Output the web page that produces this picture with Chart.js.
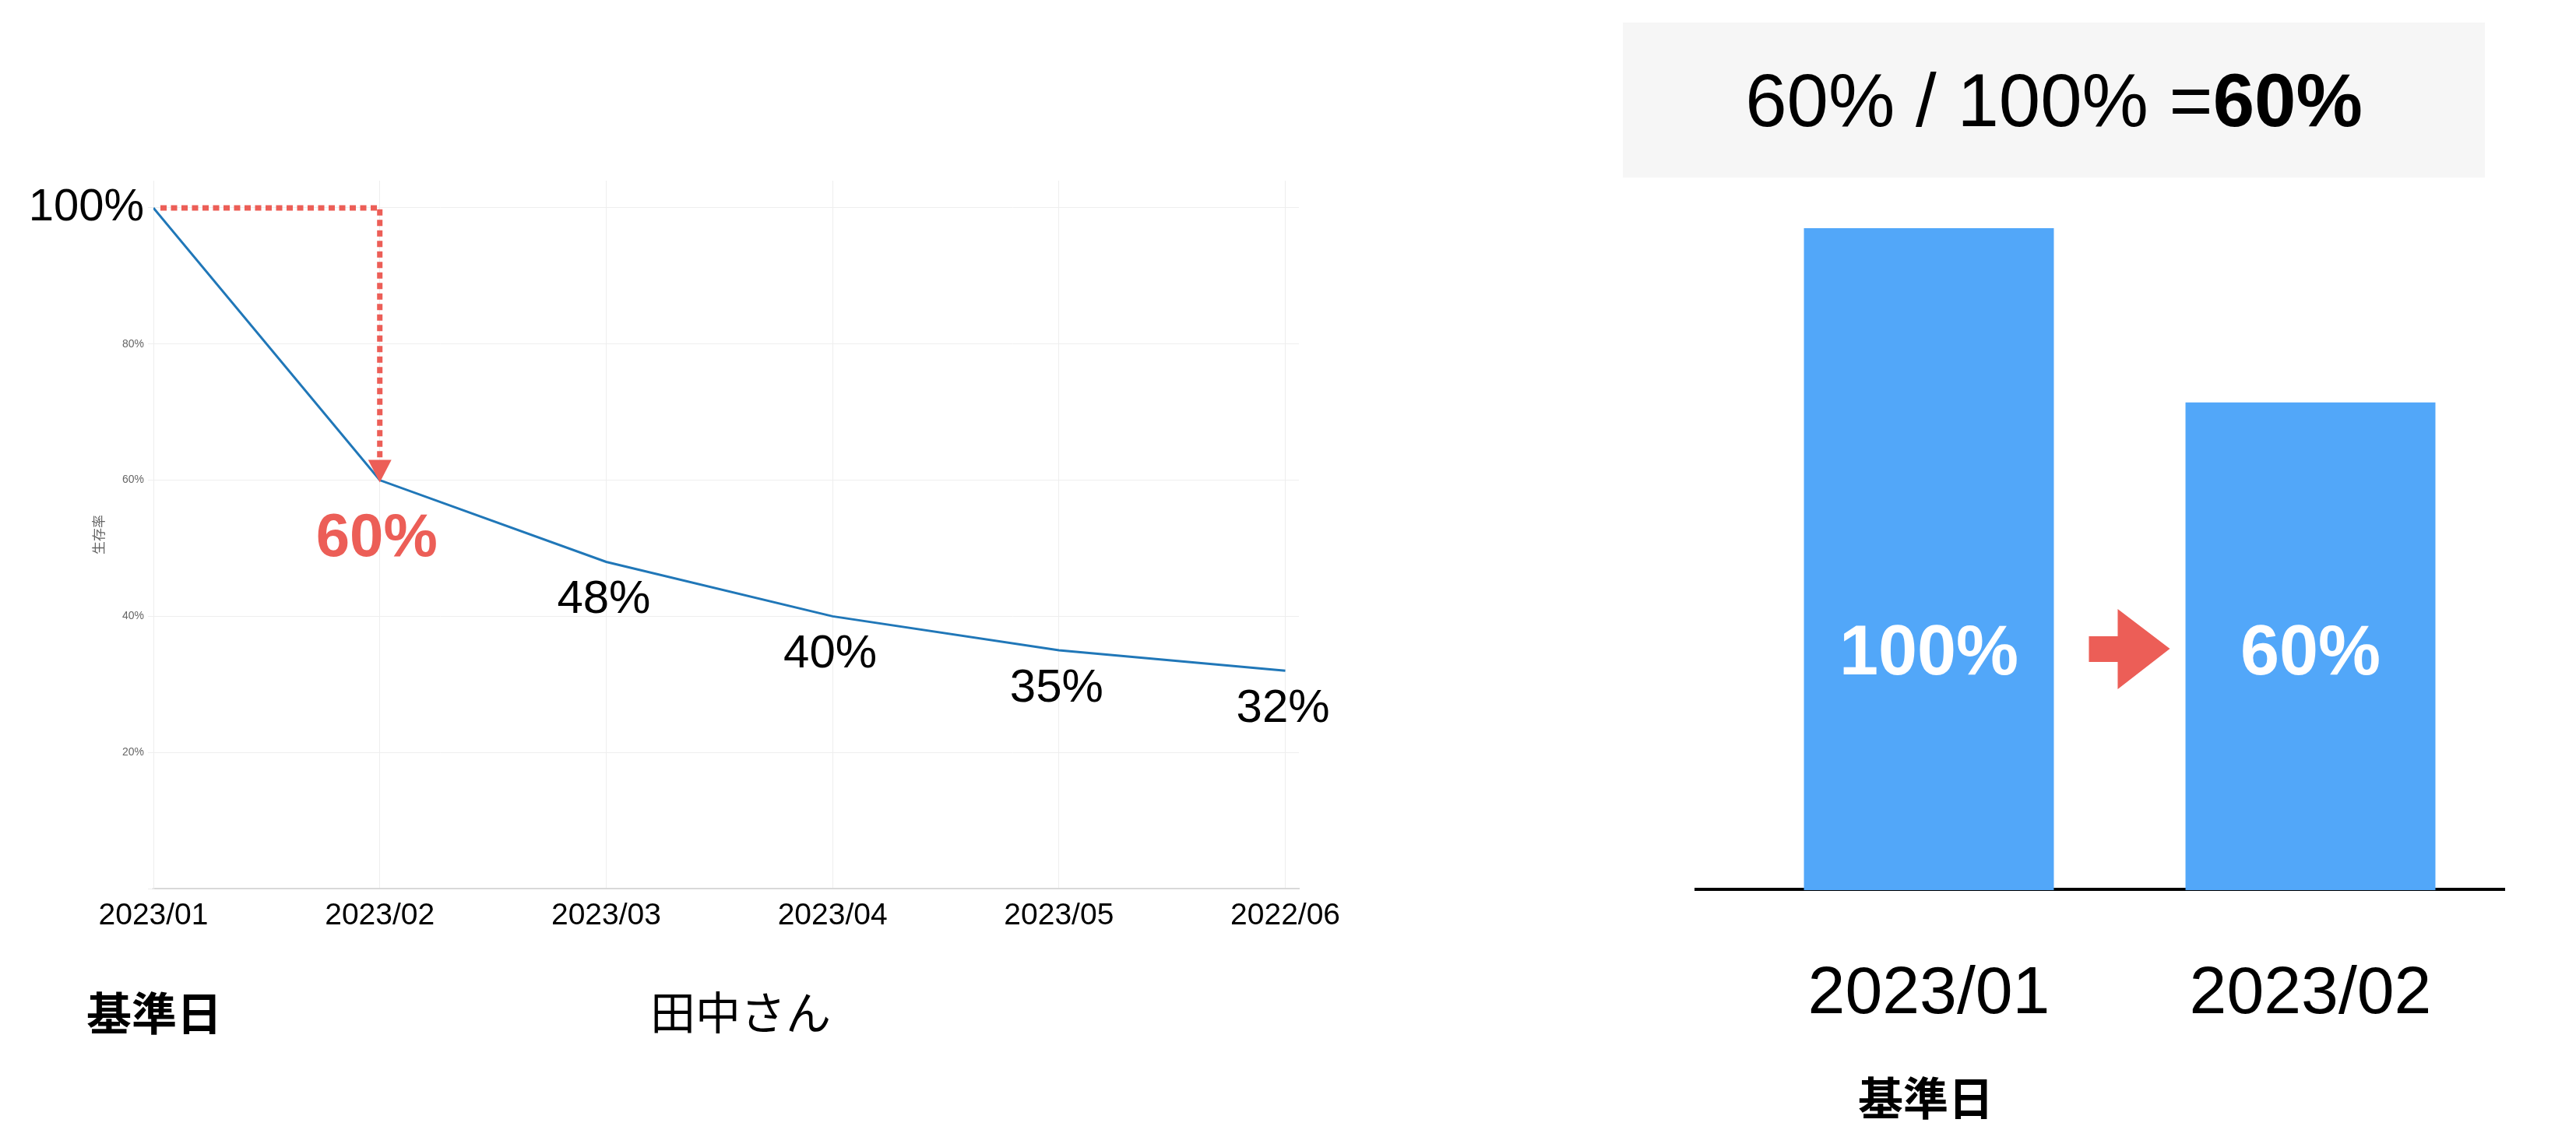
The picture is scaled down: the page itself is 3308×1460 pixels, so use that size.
<!DOCTYPE html>
<html lang="ja">
<head>
<meta charset="utf-8">
<title>生存率</title>
<script src="https://cdn.jsdelivr.net/npm/chart.js@4.4.1/dist/chart.umd.min.js"></script>
<style>
  html, body { margin: 0; padding: 0; background: #fff; }
  body { width: 3308px; height: 1460px; position: relative; overflow: hidden; font-family: "Liberation Sans", Arial, sans-serif; }
  .abs { position: absolute; white-space: nowrap; line-height: 1; }
  #lineWrap { position: absolute; left: 0; top: 0; width: 1800px; height: 1240px; }
  #barWrap { position: absolute; left: 2100px; top: 250px; width: 1208px; height: 1210px; }
  #formula { left: 2084px; top: 29px; width: 1107px; height: 199px; background: #f6f6f6;
             display: flex; align-items: center; justify-content: center; font-size: 96px; color: #000; }
  .jp { font-family: "Noto Sans CJK JP", sans-serif; font-size: 58px; color: #000; }
</style>
</head>
<body>
<div id="lineWrap"><canvas id="survivalChart"></canvas></div>
<div id="barWrap"><canvas id="compareChart"></canvas></div>
<div id="formula" class="abs"></div>
<div class="abs jp" style="left:111px; top:1298px; transform:translateY(-50%); font-weight:700;">基準日</div>
<div class="abs jp" style="left:835px; top:1297px; transform:translateY(-50%);">田中さん</div>
<div class="abs jp" style="left:2473px; top:1407px; transform:translate(-50%,-50%); font-weight:700;">基準日</div>

<script>
// ====== DATA ======
const months = ['2023/01', '2023/02', '2023/03', '2023/04', '2023/05', '2022/06'];
const survival = [100, 60, 48, 40, 35, 32];
const yTicks = [0, 20, 40, 60, 80, 100];

const compareMonths = ['2023/01', '2023/02'];
const compareValues = [100, 60];

// ====== STYLE ======
const FONT = '"Liberation Sans", Arial, Helvetica, sans-serif';
const RED = '#ec5e57';
const BLUE = '#52a7f9';
const LINE = '#2077b8';
Chart.defaults.font.family = FONT;

document.getElementById('formula').innerHTML =
  '<span>' + compareValues[1] + '% / ' + compareValues[0] + '% =<b>' +
  Math.round(compareValues[1] / compareValues[0] * 100) + '%</b></span>';

// ====== LINE CHART ======
const guidePlugin = {
  id: 'guide',
  afterDatasetsDraw(chart) {
    const { ctx, scales: { x, y } } = chart;
    const x0 = x.getPixelForValue(0), x1 = x.getPixelForValue(1);
    const yTop = y.getPixelForValue(survival[0]);
    const yEnd = y.getPixelForValue(survival[1]);
    ctx.save();
    // dotted guide from the base point to the second month
    ctx.strokeStyle = RED;
    ctx.lineWidth = 7;
    ctx.setLineDash([8, 5.5]);
    ctx.beginPath();
    ctx.moveTo(x0 + 9, yTop);
    ctx.lineTo(x1, yTop);
    ctx.lineTo(x1, yEnd - 26);
    ctx.stroke();
    ctx.setLineDash([]);
    ctx.fillStyle = RED;
    ctx.beginPath();
    ctx.moveTo(x1 - 15, yEnd - 26);
    ctx.lineTo(x1 + 15, yEnd - 26);
    ctx.lineTo(x1, yEnd + 3);
    ctx.closePath();
    ctx.fill();

    // value labels under each point
    ctx.textAlign = 'center';
    ctx.textBaseline = 'middle';
    const pts = chart.getDatasetMeta(0).data;
    survival.forEach((v, i) => {
      if (i === 0) return;
      const p = pts[i];
      if (i === 1) {
        ctx.font = 'bold 78px ' + FONT;
        ctx.fillStyle = RED;
        ctx.fillText(v + '%', p.x - 4, p.y + 76);
      } else {
        ctx.font = '60px ' + FONT;
        ctx.fillStyle = '#000';
        ctx.fillText(v + '%', p.x - 3, p.y + 49);
      }
    });
    ctx.restore();
  }
};

new Chart(document.getElementById('survivalChart'), {
  type: 'line',
  data: {
    datasets: [{
      data: survival.map((v, i) => ({ x: i, y: v })),
      borderColor: LINE,
      borderWidth: 3,
      pointRadius: 0,
      tension: 0,
      fill: false
    }]
  },
  options: {
    responsive: true,
    maintainAspectRatio: false,
    animation: false,
    layout: { padding: { left: 0, top: 232, right: 132, bottom: 0 } },
    plugins: { legend: { display: false }, tooltip: { enabled: false } },
    scales: {
      x: {
        type: 'linear',
        min: 0,
        max: months.length - 1 + 0.06,
        afterBuildTicks: s => { s.ticks = months.map((m, i) => ({ value: i })); },
        afterFit: s => { s.height = 99; },
        grid: { color: '#eeeeee', lineWidth: 1, drawTicks: false },
        border: { color: '#d8d8d8', width: 2 },
        ticks: {
          padding: 12,
          color: '#000',
          font: { size: 39 },
          maxRotation: 0,
          autoSkip: false,
          callback: v => months[v]
        }
      },
      y: {
        min: 0,
        max: 104,
        afterBuildTicks: s => { s.ticks = yTicks.map(v => ({ value: v })); },
        afterFit: s => { s.width = 197; },
        grid: { color: '#eeeeee', lineWidth: 1, tickLength: 7 },
        border: { color: '#eeeeee', width: 1 },
        title: {
          display: true,
          text: '生存率',
          color: '#666',
          padding: { top: 116, bottom: 4 },
          font: { size: 17, family: '"Noto Sans CJK JP", sans-serif' }
        },
        ticks: {
          padding: 5,
          callback: v => (v === 0 ? '' : v + '%'),
          color: c => (c.tick && c.tick.value === 100 ? '#000' : '#666'),
          font: c => (c.tick && c.tick.value === 100 ? { size: 58 } : { size: 14 })
        }
      }
    }
  },
  plugins: [guidePlugin]
});

// ====== BAR CHART ======
const barFloor = -52;

const barDecor = {
  id: 'barDecor',
  beforeDatasetsDraw(chart) {
    const { ctx, chartArea } = chart;
    ctx.save();
    ctx.strokeStyle = '#000';
    ctx.lineWidth = 4;
    ctx.beginPath();
    ctx.moveTo(chartArea.left - 56, chartArea.bottom - 1);
    ctx.lineTo(chartArea.right + 5, chartArea.bottom - 1);
    ctx.stroke();
    ctx.restore();
  },
  afterDatasetsDraw(chart) {
    const { ctx, chartArea } = chart;
    const bars = chart.getDatasetMeta(0).data;
    const yMid = chartArea.bottom - 310;
    ctx.save();
    ctx.fillStyle = '#fff';
    ctx.font = 'bold 90px ' + FONT;
    ctx.textAlign = 'center';
    ctx.textBaseline = 'middle';
    bars.forEach((b, i) => ctx.fillText(compareValues[i] + '%', b.x, yMid + 8));

    // arrow between the two bars
    const gapL = bars[0].x + bars[0].width / 2;
    ctx.fillStyle = RED;
    ctx.beginPath();
    ctx.moveTo(gapL + 45, yMid - 16);
    ctx.lineTo(gapL + 82, yMid - 16);
    ctx.lineTo(gapL + 82, yMid - 51);
    ctx.lineTo(gapL + 149, yMid);
    ctx.lineTo(gapL + 82, yMid + 52);
    ctx.lineTo(gapL + 82, yMid + 17);
    ctx.lineTo(gapL + 45, yMid + 17);
    ctx.closePath();
    ctx.fill();
    ctx.restore();
  }
};

new Chart(document.getElementById('compareChart'), {
  type: 'bar',
  data: {
    labels: compareMonths,
    datasets: [{
      data: compareValues,
      base: barFloor,
      backgroundColor: BLUE,
      categoryPercentage: 1,
      barPercentage: 0.655
    }]
  },
  options: {
    responsive: true,
    maintainAspectRatio: false,
    animation: false,
    layout: { padding: { left: 132, right: 96, top: 43, bottom: 0 } },
    plugins: { legend: { display: false }, tooltip: { enabled: false } },
    scales: {
      x: {
        grid: { display: false },
        border: { display: false },
        afterFit: s => { s.height = 317; },
        ticks: { color: '#000', padding: 75, font: { size: 86 } }
      },
      y: { display: false, min: barFloor, max: 100 }
    }
  },
  plugins: [barDecor]
});
</script>
</body>
</html>
